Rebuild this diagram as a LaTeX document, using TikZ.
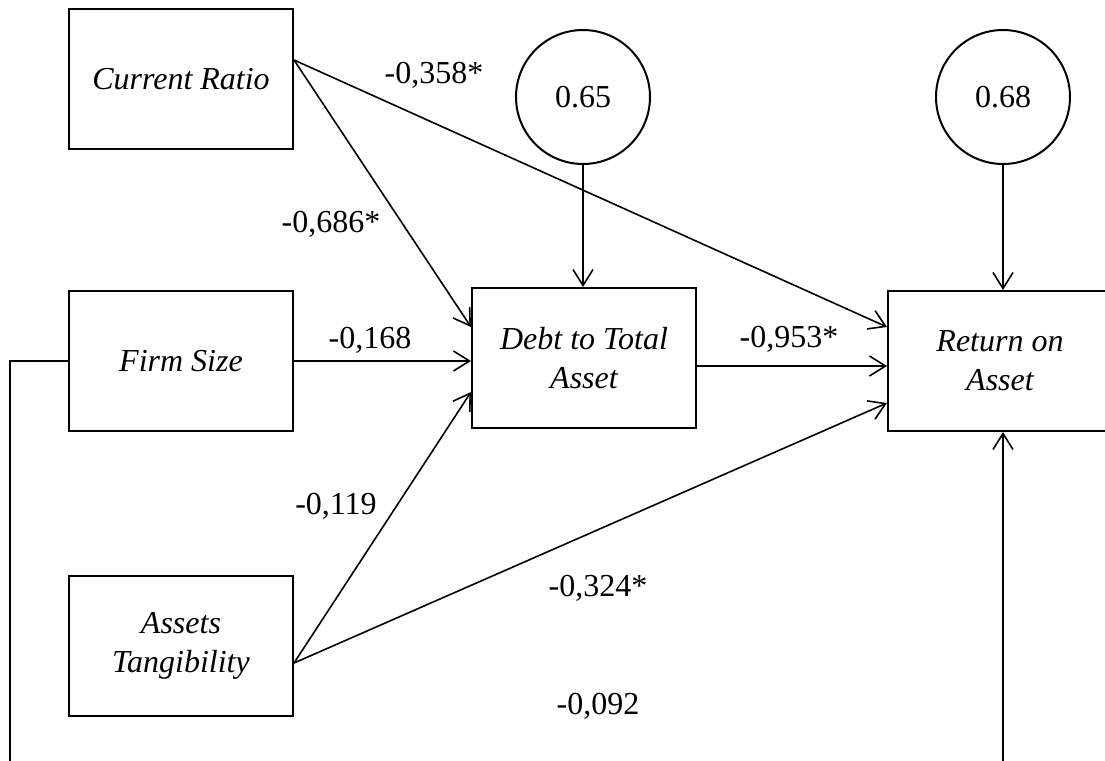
\documentclass[tikz,border=0pt]{standalone}
\usepackage{fontspec}
\setmainfont{Liberation Serif}
\usetikzlibrary{arrows.meta}
\begin{document}
\begin{tikzpicture}
  [x=0.5pt,y=-0.5pt,font=\fontsize{16}{19.5}\selectfont,
   var/.style={draw,line width=1pt,minimum width=112pt,minimum height=70pt,
     inner sep=0pt,align=center,font=\fontsize{16}{19.5}\selectfont\itshape},
   err/.style={draw,circle,line width=1pt,minimum size=67pt,inner sep=0pt},
   arr/.style={line width=0.8pt,-{Straight Barb[length=8pt,width=10pt]}}]
\useasboundingbox (0,0) rectangle (1105,761);
\node (cr)[var] at (181,79) {Current Ratio};
  \node (fs)[var] at (181,361)  {Firm Size};
  \node (at)[var] at (181,646)  {Assets\\Tangibility};
  \node (dta)[var] at (584,358)  {Debt to Total\\Asset};
  \node (roa)[var] at (1000,361)  {Return on\\Asset};
  \node (e1)[err] at (583,97) {0.65};
  \node (e2)[err] at (1003,97) {0.68};

% path coefficients
\node (w1) at (434,75) {-0,358*};
\node (w2) at (331,224) {-0,686*};
\node (w3) at (370,340) {-0,168};
\node (w4) at (789,339) {-0,953*};
\node (w5) at (336,506) {-0,119};
\node (w6) at (598,588) {-0,324*};
\node (w7) at (598,706) {-0,092};

 \draw[arr] ([yshift=9.5pt]cr.east) -- ([yshift=17pt]roa.west);
 \draw[arr] ([yshift=9.5pt]cr.east) -- ([yshift=15.5pt]dta.west);
 \draw[arr] (fs) -- (dta.west |- fs.east);
 \draw[arr] ([yshift=-8.5pt]at.east) -- ([yshift=-17pt]dta.west);
 \draw[arr] ([yshift=-8.5pt]at.east) -- ([yshift=-21pt]roa.west);
 \draw[arr] (dta.east |- 0,366) -- (roa.west |- 0,366);
 \draw[arr] (e1) -- (e1 |- dta.north);
 \draw[arr] (e2) -- (e2 |- roa.north);
% firm size to return on asset, running below the page
     \draw[arr] (fs.west) -- (10,361) -- (10,800) -- (1003,800) -- (1003,0 |- roa.south);
\end{tikzpicture}
\end{document}
